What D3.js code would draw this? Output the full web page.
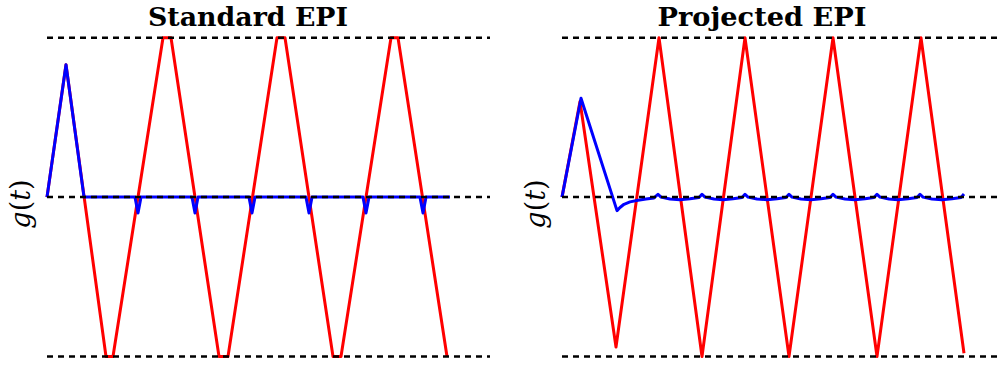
<!DOCTYPE html>
<html>
<head>
<meta charset="utf-8">
<script src="https://cdn.jsdelivr.net/npm/d3@7"></script>
<style>
  body { margin: 0; background: #fff; }
  svg { display: block; }
</style>
</head>
<body>
<div id="my_dataviz"></div>
<script>
// panel titles
var titles = ["Standard EPI", "Projected EPI"];
var titleWidths = [200, 209];

// gradient waveforms, [time, g(t)] (time in samples)
var standardRed = [[0,0],[19,0.83],[59,-1],[66,-1],[116,1],[124,1],[172,-1],[181,-1],
  [230,1],[238,1],[286,-1],[294,-1],[344,1],[351,1],[400,-1]];
var standardBlue = [[0,0],[19,0.83],[37,0],[88,0],[91,-0.1],[94,0],[145,0],[148,-0.1],[151,0],
  [202,0],[205,-0.1],[208,0],[259,0],[262,-0.1],[265,0],[316,0],[319,-0.1],[322,0],
  [373,0],[376,-0.1],[379,0],[403,0]];

var projectedRed = [[0,0],[18,0.6],[54,-0.94],[97,1],[140,-1],[183,1],[227,-1],
  [271,1],[315,-1],[359,1],[402,-0.98]];
var projectedBlue = [[0,0],[19,0.62],[55,-0.085],[58,-0.065],[62,-0.045],[68,-0.03],[76,-0.02],
  [84,-0.012],[92,-0.005],[96,0.018],[99,0],[108,-0.012],[118,-0.016],[128,-0.01],[137,-0.002],
  [140,0.018],[143,0],[152,-0.012],[161,-0.016],[171,-0.01],[180,-0.002],[183,0.018],[186,0],
  [195,-0.012],[205,-0.016],[215,-0.01],[224,-0.002],[227,0.018],[230,0],[239,-0.012],
  [249,-0.016],[259,-0.01],[268,-0.002],[271,0.018],[274,0],[283,-0.012],[293,-0.016],
  [303,-0.01],[312,-0.002],[315,0.018],[318,0],[327,-0.012],[336,-0.016],[346,-0.01],
  [355,-0.002],[358,0.018],[361,0],[370,-0.012],[380,-0.016],[390,-0.01],[399,-0.002],[402,0.02]];

// reference levels (dashed)
var levels = [1, 0, -1];
var tExtent = [0, 443];

var width = 998, height = 366;

var svg = d3.select("#my_dataviz")
  .append("svg")
    .attr("width", width)
    .attr("height", height);

var panels = [
  {title: titles[0], tw: titleWidths[0], red: standardRed, blue: standardBlue, left: 47, titleX: 248, labelX: 30},
  {title: titles[1], tw: titleWidths[1], red: projectedRed, blue: projectedBlue, left: 562, titleX: 762, labelX: 545}
];

panels.forEach(function(p) {
  var x = d3.scaleLinear()
    .domain(tExtent)
    .range([p.left, p.left + 443]);
  var y = d3.scaleLinear()
    .domain([-1, 1])
    .range([356.5, 37.7]);

  var line = d3.line()
    .x(d => x(d[0]))
    .y(d => y(d[1]));

  var g = svg.append("g");

  // red: full gradient
  g.append("path")
    .datum(p.red)
    .attr("d", line)
    .attr("fill", "none")
    .attr("stroke", "#ff0000")
    .attr("stroke-width", 3)
    .attr("stroke-linejoin", "round");

  // blue: gradient moment
  g.append("path")
    .datum(p.blue)
    .attr("d", line)
    .attr("fill", "none")
    .attr("stroke", "#0000ff")
    .attr("stroke-width", 3)
    .attr("stroke-linejoin", "round");

  // dashed levels
  g.selectAll("line.level")
    .data(levels)
    .enter()
    .append("line")
      .attr("class", "level")
      .attr("x1", x(tExtent[0]))
      .attr("x2", x(tExtent[1]))
      .attr("y1", d => y(d))
      .attr("y2", d => y(d))
      .attr("stroke", "#000")
      .attr("stroke-width", 2.5)
      .attr("stroke-dasharray", "6,5");

  // title
  svg.append("text")
    .attr("x", p.titleX)
    .attr("y", 26)
    .attr("text-anchor", "middle")
    .attr("textLength", p.tw)
    .attr("lengthAdjust", "spacingAndGlyphs")
    .style("font-family", "DejaVu Serif")
    .style("font-weight", "bold")
    .style("font-size", "26px")
    .text(p.title);

  // y label g(t)
  var lab = svg.append("text")
    .attr("transform", "translate(" + p.labelX + ",204) rotate(-90)")
    .attr("text-anchor", "middle")
    .style("font-family", "DejaVu Serif")
    .style("font-size", "27px");
  lab.append("tspan").style("font-style", "italic").text("g");
  lab.append("tspan").text("(");
  lab.append("tspan").style("font-style", "italic").text("t");
  lab.append("tspan").text(")");
});
</script>
</body>
</html>
